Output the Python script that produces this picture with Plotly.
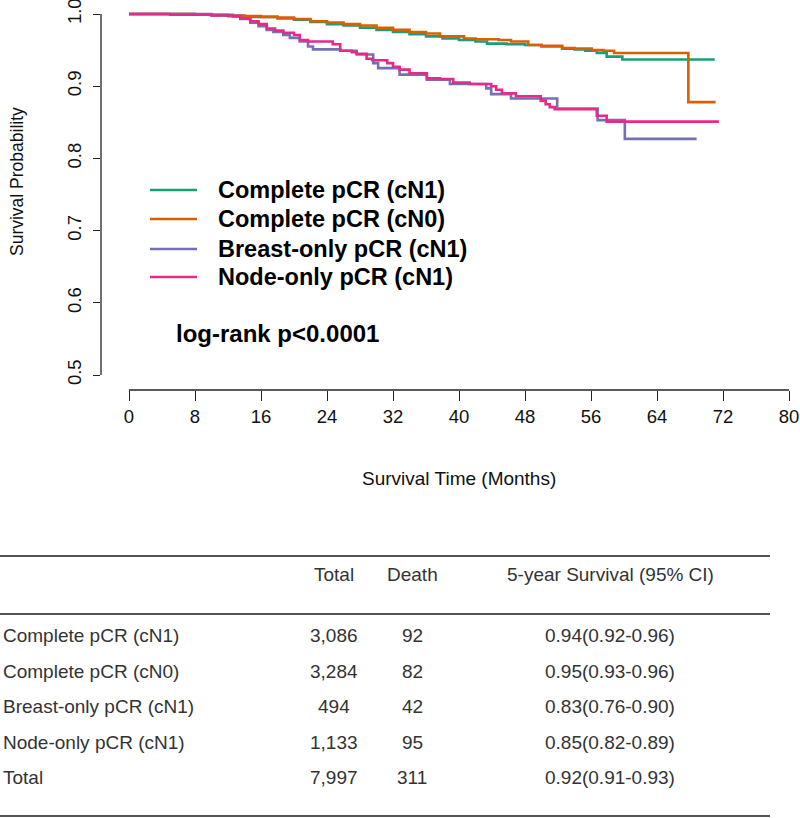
import plotly.graph_objects as go

W, H = 800, 818
PL, PR, PT, PB = 101, 789, 8, 390  # plot area in pixels

group_names = ["Complete pCR (cN1)", "Complete pCR (cN0)",
               "Breast-only pCR (cN1)", "Node-only pCR (cN1)"]
colors = ["#1B9E77", "#D95F02", "#7570B3", "#E7298A"]

# Kaplan-Meier step data (months, survival probability)
green_t = [0, 4, 8, 10, 12, 14, 16, 18, 20, 22, 24, 26, 28, 30, 32, 34, 36, 38, 40, 42,
           43.4, 45.8, 48, 50, 52.5, 54, 55.3, 56.7, 57.9, 59.8, 71.0]
green_s = [1.0, 1.0, 0.999, 0.998, 0.997, 0.996, 0.996, 0.994, 0.992, 0.989, 0.986, 0.984,
           0.981, 0.978, 0.975, 0.972, 0.969, 0.966, 0.964, 0.962, 0.959, 0.958, 0.957,
           0.955, 0.952, 0.951, 0.949, 0.946, 0.941, 0.937, 0.937]
orange_t = [0, 8, 12, 14, 16, 18, 20, 22, 24, 26, 28, 30, 32, 34, 36, 37.7, 40.6, 42,
            44.8, 46.3, 48.4, 50, 52.5, 54, 56.1, 57.5, 58.8, 67.8, 71.1]
orange_s = [1.0, 0.999, 0.998, 0.997, 0.996, 0.995, 0.993, 0.990, 0.988, 0.986, 0.984,
            0.981, 0.978, 0.975, 0.973, 0.969, 0.966, 0.965, 0.964, 0.962, 0.957, 0.956,
            0.953, 0.952, 0.950, 0.949, 0.946, 0.878, 0.878]
purple_t = [0, 6, 10, 12.6, 13.5, 14.7, 15.7, 16.7, 17.5, 18.7, 19.5, 20.7, 21.7, 22.3,
            25.6, 27.6, 29.6, 30.2, 32.8, 36.1, 38.9, 43.3, 43.9, 46.3, 51.9, 56.8, 60.1, 68.8]
purple_s = [1.0, 1.0, 0.999, 0.997, 0.993, 0.988, 0.983, 0.978, 0.975, 0.971, 0.967,
            0.962, 0.955, 0.951, 0.949, 0.944, 0.932, 0.925, 0.916, 0.909, 0.903, 0.897,
            0.889, 0.883, 0.869, 0.853, 0.827, 0.827]
pink_t = [0, 5, 10, 12.6, 13.5, 14.7, 15.7, 16.7, 17.7, 18.7, 20, 20.7, 21.7, 24.7, 25.6,
          27, 27.6, 28.8, 29.5, 31.3, 32, 32.8, 34, 36.1, 37.7, 39.3, 41.3, 43.9, 44.5,
          45.2, 46.9, 49.9, 50.5, 51, 51.6, 56.7, 57.9, 71.5]
pink_s = [1.0, 0.999, 0.998, 0.997, 0.994, 0.990, 0.986, 0.980, 0.977, 0.974, 0.971,
          0.964, 0.962, 0.958, 0.949, 0.947, 0.945, 0.938, 0.936, 0.932, 0.927, 0.923,
          0.918, 0.911, 0.910, 0.905, 0.903, 0.900, 0.895, 0.890, 0.886, 0.880, 0.875,
          0.871, 0.868, 0.859, 0.851, 0.851]

x_ticks = [0, 8, 16, 24, 32, 40, 48, 56, 64, 72, 80]
y_ticks = [0.5, 0.6, 0.7, 0.8, 0.9, 1.0]
y_tick_labels = ["0.5", "0.6", "0.7", "0.8", "0.9", "1.0"]

x_title = "Survival Time (Months)"
y_title = "Survival Probability"
pvalue_text = "log-rank p<0.0001"

table_header = ["Total", "Death", "5-year Survival (95% CI)"]
table_labels = ["Complete pCR (cN1)", "Complete pCR (cN0)", "Breast-only pCR (cN1)",
                "Node-only pCR (cN1)", "Total"]
table_total = ["3,086", "3,284", "494", "1,133", "7,997"]
table_death = ["92", "82", "42", "95", "311"]
table_surv = ["0.94(0.92-0.96)", "0.95(0.93-0.96)", "0.83(0.76-0.90)",
              "0.85(0.82-0.89)", "0.92(0.91-0.93)"]

series_t = [green_t, orange_t, purple_t, pink_t]
series_s = [green_s, orange_s, purple_s, pink_s]

FONT = "Liberation Sans, Arial, sans-serif"


def px_x(p):
    return (p - PL) / (PR - PL)


def px_y(p):
    return (PB - p) / (PB - PT)


# axis ranges from pixel calibration (t=0 at 129px, 8.25 px/month; s=1 at 14px, 722 px/unit)
x_range = [(PL - 129) / 8.25, (PR - 129) / 8.25]
y_range = [1 - (PB - 14) / 722, 1 + (14 - PT) / 722]

fig = go.Figure()
for name, col, t, s in zip(group_names, colors, series_t, series_s):
    fig.add_trace(go.Scatter(x=t, y=s, mode="lines", name=name,
                             line=dict(color=col, width=2.6, shape="hv"),
                             showlegend=False, hoverinfo="skip"))

shapes = []
annotations = []
axis_col = "#222222"

# R-style axis lines spanning the tick range only
shapes.append(dict(type="line", xref="x", yref="paper", x0=x_ticks[0], x1=x_ticks[-1],
                   y0=0, y1=0, line=dict(color=axis_col, width=1.3)))
shapes.append(dict(type="line", xref="paper", yref="y", x0=0, x1=0,
                   y0=y_ticks[0], y1=y_ticks[-1], line=dict(color=axis_col, width=1.3)))

# legend
legend_rows = [190, 219, 249, 277]
for name, col, ry in zip(group_names, colors, legend_rows):
    shapes.append(dict(type="line", xref="paper", yref="paper", x0=px_x(150), x1=px_x(197),
                       y0=px_y(ry), y1=px_y(ry), line=dict(color=col, width=2.6)))
    annotations.append(dict(text="<b>%s</b>" % name, xref="paper", yref="paper",
                            x=px_x(216), y=px_y(ry), xanchor="left", yanchor="middle",
                            showarrow=False, font=dict(family=FONT, size=23.5, color="#000000")))

annotations.append(dict(text="<b>%s</b>" % pvalue_text, xref="paper", yref="paper",
                        x=px_x(174), y=px_y(333), xanchor="left", yanchor="middle",
                        showarrow=False, font=dict(family=FONT, size=24, color="#000000")))

# axis titles
annotations.append(dict(text=x_title, xref="paper", yref="paper", x=px_x(459), y=px_y(478),
                        xanchor="center", yanchor="middle", showarrow=False,
                        font=dict(family=FONT, size=19, color="#111111")))
annotations.append(dict(text=y_title, xref="paper", yref="paper", x=px_x(17), y=px_y(182),
                        xanchor="center", yanchor="middle", showarrow=False, textangle=-90,
                        font=dict(family=FONT, size=17.5, color="#111111")))

# summary table
tcol = "#333333"
for yy in [556, 614, 816]:
    shapes.append(dict(type="line", xref="paper", yref="paper", x0=px_x(0), x1=px_x(770),
                       y0=px_y(yy), y1=px_y(yy), line=dict(color="#1a1a1a", width=1.6)))

col_centers = [334, 412, 610]
for txt, cx in zip(table_header, col_centers):
    annotations.append(dict(text=txt, xref="paper", yref="paper", x=px_x(cx), y=px_y(574),
                            xanchor="center", yanchor="middle", showarrow=False,
                            font=dict(family=FONT, size=19, color=tcol)))
row_y = [635, 671, 706, 742, 777]
for i, ry in enumerate(row_y):
    annotations.append(dict(text=table_labels[i], xref="paper", yref="paper", x=px_x(1),
                            y=px_y(ry), xanchor="left", yanchor="middle", showarrow=False,
                            font=dict(family=FONT, size=19, color=tcol)))
    for txt, cx in zip([table_total[i], table_death[i], table_surv[i]], col_centers):
        annotations.append(dict(text=txt, xref="paper", yref="paper", x=px_x(cx),
                                y=px_y(ry), xanchor="center", yanchor="middle",
                                showarrow=False, font=dict(family=FONT, size=19, color=tcol)))

fig.update_layout(
    width=W, height=H,
    margin=dict(l=PL, r=W - PR, t=PT, b=H - PB, pad=0, autoexpand=False),
    paper_bgcolor="white", plot_bgcolor="white",
    showlegend=False,
    xaxis=dict(range=x_range, tickvals=x_ticks, ticks="outside", ticklen=10, tickwidth=1.3,
               tickcolor=axis_col, showline=False, showgrid=False, zeroline=False,
               automargin=False, ticklabeloverflow="allow",
               tickfont=dict(family=FONT, size=18.5, color="#111111"), fixedrange=True),
    yaxis=dict(range=y_range, tickvals=y_ticks, ticktext=y_tick_labels, ticks="outside",
               ticklen=7, tickwidth=1.3, tickcolor=axis_col, showline=False, showgrid=False,
               zeroline=False, tickangle=-90, ticklabelstandoff=5, automargin=False,
               ticklabeloverflow="allow",
               tickfont=dict(family=FONT, size=18.5, color="#111111"), fixedrange=True),
    shapes=shapes, annotations=annotations,
)

fig.write_html("out.html", config={"displayModeBar": False},
               post_script="document.body.style.margin='0px';document.body.style.overflow='hidden';")
